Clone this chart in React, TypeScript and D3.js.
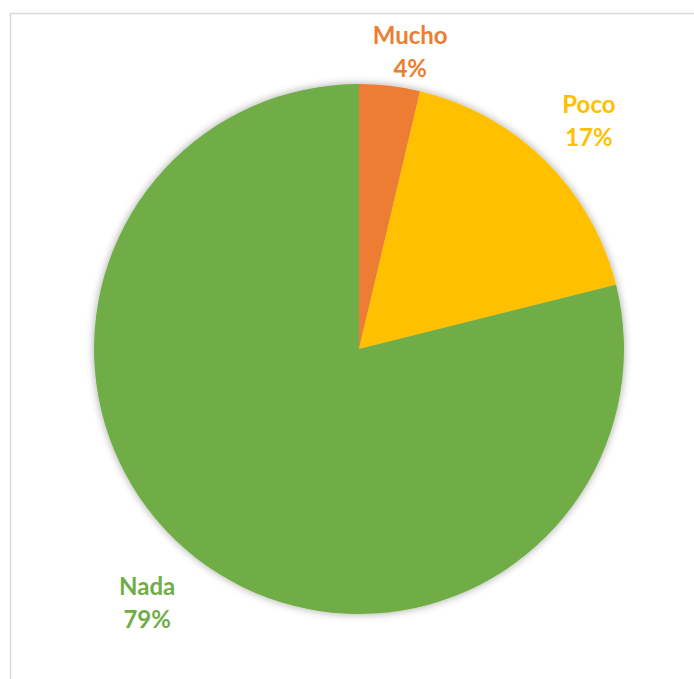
import { useMemo } from 'react';
import * as d3 from 'd3';

const categories = ['Mucho', 'Poco', 'Nada'];
const values = [3.7, 17.4, 78.9];
const colors = ['#ED7D31', '#FFC000', '#70AD47'];
// outside-label placement: radius factor and a small nudge per slice
const labelRadiusFactor = [1.145, 1.235, 1.25];
const labelNudgeX = [16, 0, -8];
const labelNudgeY = [4, 5, -7];

const W = 694;
const H = 679;
const CX = 359;
const CY = 349;
const R = 265;

interface Slice {
  label: string;
  value: number;
  color: string;
}

export default function App() {
  const data: Slice[] = useMemo(
    () => categories.map((c, i) => ({ label: c, value: values[i], color: colors[i] })),
    [],
  );

  const pie = d3.pie<Slice>().value(d => d.value).sort(null);
  const arcs = pie(data);
  const arc = d3.arc<d3.PieArcDatum<Slice>>().innerRadius(0).outerRadius(R);
  const total = d3.sum(values);

  return (
    <svg
      width={W}
      height={H}
      style={{ position: 'absolute', left: 0, top: 0, background: '#fff' }}
    >
      <defs>
        <filter id="pieShadow" x="-10%" y="-10%" width="120%" height="120%">
          <feGaussianBlur in="SourceAlpha" stdDeviation="4" />
          <feComponentTransfer>
            <feFuncA type="linear" slope="0.35" />
          </feComponentTransfer>
          <feMerge>
            <feMergeNode />
            <feMergeNode in="SourceGraphic" />
          </feMerge>
        </filter>
      </defs>

      {/* chart frame */}
      <rect x={10.5} y={13.5} width={W + 20} height={H + 20} fill="none" stroke="#d9d9d9" strokeWidth={1.5} />

      <g transform={`translate(${CX},${CY})`} filter="url(#pieShadow)">
        {arcs.map((a, i) => (
          <path key={i} d={arc(a) ?? ''} fill={a.data.color} />
        ))}
      </g>

      <g transform={`translate(${CX},${CY})`}>
        {arcs.map((a, i) => {
          const mid = (a.startAngle + a.endAngle) / 2;
          const r = R * labelRadiusFactor[i];
          const x = Math.sin(mid) * r + labelNudgeX[i];
          const y = -Math.cos(mid) * r + labelNudgeY[i];
          const pct = Math.round((a.data.value / total) * 100);
          return (
            <text
              key={i}
              y={y}
              textAnchor="middle"
              fill={a.data.color}
              fontFamily="Lato, 'Open Sans', sans-serif"
              fontWeight={700}
              fontSize={24}
            >
              <tspan x={x} dy={-8}>{a.data.label}</tspan>
              <tspan x={x} dy={33}>{pct}%</tspan>
            </text>
          );
        })}
      </g>
    </svg>
  );
}
